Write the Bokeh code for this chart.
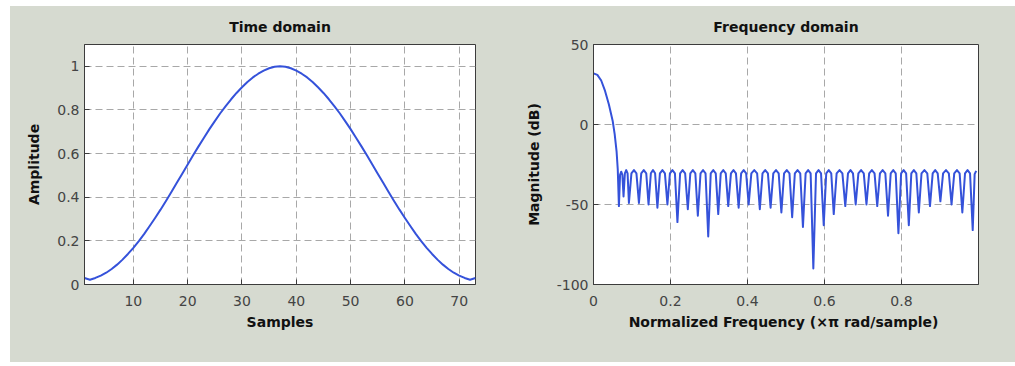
from bokeh.plotting import figure
from bokeh.layouts import row, column
from bokeh.models import Range1d, FixedTicker, NumeralTickFormatter, Spacer
from bokeh.embed import file_html
from bokeh.resources import INLINE

# ---- data ----
SAMPLES = list(range(1, 74))
AMPLITUDE = [0.030, 0.022, 0.030, 0.041, 0.054, 0.071, 0.091, 0.114, 0.140, 0.168,
             0.199, 0.232, 0.268, 0.305, 0.343, 0.383, 0.424, 0.466, 0.508, 0.550,
             0.592, 0.633, 0.673, 0.712, 0.749, 0.785, 0.818, 0.849, 0.878, 0.904,
             0.928, 0.949, 0.966, 0.980, 0.991, 0.998, 1.000,
             0.998, 0.991, 0.980, 0.966, 0.949, 0.928, 0.904, 0.878, 0.849, 0.818,
             0.785, 0.749, 0.712, 0.673, 0.633, 0.592, 0.550, 0.508, 0.466, 0.424,
             0.383, 0.343, 0.305, 0.268, 0.232, 0.199, 0.168, 0.140, 0.114, 0.091,
             0.071, 0.054, 0.041, 0.030, 0.022, 0.030]

FREQ = [0.000, 0.010, 0.020, 0.030, 0.040, 0.050, 0.055, 0.060, 0.063, 0.066,
        0.069, 0.072, 0.075, 0.078,
        0.0815, 0.085, 0.0885, 0.092,
        0.0985, 0.105, 0.1115, 0.118,
        0.124, 0.1305, 0.137, 0.143,
        0.149, 0.1545, 0.160, 0.166,
        0.1725, 0.179, 0.1855, 0.192,
        0.1985, 0.205, 0.2115, 0.218,
        0.225, 0.2315, 0.238, 0.245,
        0.2515, 0.258, 0.2645, 0.271,
        0.278, 0.2845, 0.291, 0.298,
        0.3045, 0.311, 0.3175, 0.324,
        0.3305, 0.337, 0.3435, 0.350,
        0.357, 0.3635, 0.370, 0.377,
        0.3835, 0.390, 0.3965, 0.403,
        0.410, 0.4175, 0.425, 0.432,
        0.439, 0.446, 0.453, 0.460,
        0.467, 0.474, 0.481, 0.488,
        0.495, 0.502, 0.509, 0.516,
        0.523, 0.530, 0.537, 0.544,
        0.551, 0.5575, 0.564, 0.571,
        0.578, 0.5845, 0.591, 0.598,
        0.6045, 0.611, 0.6175, 0.624,
        0.6315, 0.639, 0.6465, 0.654,
        0.661, 0.6675, 0.674, 0.681,
        0.688, 0.695, 0.702, 0.709,
        0.716, 0.723, 0.730, 0.737,
        0.744, 0.751, 0.758, 0.765,
        0.772, 0.7785, 0.785, 0.792,
        0.799, 0.8055, 0.812, 0.819,
        0.8255, 0.832, 0.8385, 0.845,
        0.852, 0.8595, 0.867, 0.874,
        0.881, 0.8875, 0.894, 0.901,
        0.908, 0.9155, 0.923, 0.930,
        0.937, 0.944, 0.951, 0.958,
        0.965, 0.9715, 0.978, 0.985,
        0.990, 0.994]

MAG_DB = [32.0, 31.0, 27.5, 21.0, 12.5, 2.0, -6.0, -17.0, -28.0, -51.0,
          -31.5, -29.5, -31.5, -45.0,
          -30.5, -28.5, -30.5, -49.0,
          -30.5, -28.5, -30.5, -49.0,
          -30.5, -28.5, -30.5, -50.0,
          -30.5, -28.5, -30.5, -52.0,
          -30.5, -28.5, -30.5, -50.0,
          -30.5, -28.5, -30.5, -61.0,
          -30.5, -28.5, -30.5, -53.0,
          -30.5, -28.5, -30.5, -57.0,
          -30.5, -28.5, -30.5, -70.0,
          -30.5, -28.5, -30.5, -56.0,
          -30.5, -28.5, -30.5, -51.0,
          -30.5, -28.5, -30.5, -52.0,
          -30.5, -28.5, -30.5, -50.0,
          -30.5, -28.5, -30.5, -53.0,
          -30.5, -28.5, -30.5, -52.0,
          -30.5, -28.5, -30.5, -55.0,
          -30.5, -28.5, -30.5, -58.0,
          -30.5, -28.5, -30.5, -64.0,
          -30.5, -28.5, -30.5, -90.0,
          -30.5, -28.5, -30.5, -63.0,
          -30.5, -28.5, -30.5, -56.0,
          -30.5, -28.5, -30.5, -51.0,
          -30.5, -28.5, -30.5, -50.0,
          -30.5, -28.5, -30.5, -50.0,
          -30.5, -28.5, -30.5, -51.0,
          -30.5, -28.5, -30.5, -57.0,
          -30.5, -28.5, -30.5, -68.0,
          -30.5, -28.5, -30.5, -63.0,
          -30.5, -28.5, -30.5, -55.0,
          -30.5, -28.5, -30.5, -51.0,
          -30.5, -28.5, -30.5, -48.0,
          -30.5, -28.5, -30.5, -50.0,
          -30.5, -28.5, -30.5, -55.0,
          -30.5, -28.5, -30.5, -66.0,
          -31.0, -29.0]

TIME_XTICKS = [10, 20, 30, 40, 50, 60, 70]
TIME_YTICKS = [0, 0.2, 0.4, 0.6, 0.8, 1]
FREQ_XTICKS = [0, 0.2, 0.4, 0.6, 0.8]
FREQ_YTICKS = [-100, -50, 0, 50]

BG = "#d6dad0"
LINE = "#3552da"
FRAME = "#3c3c3c"
FONT = "DejaVu Sans"
H = 356


def make(width, xr, yr, bl, br, title, xlabel, ylabel, xt, yt, fmt_x, fmt_y):
    p = figure(width=width, height=H, x_range=Range1d(*xr), y_range=Range1d(*yr),
               output_backend="svg", toolbar_location=None,
               min_border_left=bl, min_border_right=br,
               min_border_top=36, min_border_bottom=78,
               background_fill_color="white", border_fill_color=BG,
               outline_line_color=FRAME, outline_line_width=1)
    p.title.text = title
    p.title.align = "center"
    p.title.text_font = FONT
    p.title.text_font_size = "14px"
    p.title.text_font_style = "bold"
    p.title.text_color = "#111111"
    p.title.standoff = 20
    p.xaxis.axis_label = xlabel
    p.yaxis.axis_label = ylabel
    p.xaxis.ticker = FixedTicker(ticks=xt)
    p.yaxis.ticker = FixedTicker(ticks=yt)
    p.xaxis.formatter = NumeralTickFormatter(format=fmt_x)
    p.yaxis.formatter = NumeralTickFormatter(format=fmt_y)
    for ax in (p.xaxis[0], p.yaxis[0]):
        ax.major_tick_in = 5
        ax.major_tick_out = 0
        ax.minor_tick_line_color = None
        ax.axis_line_color = FRAME
        ax.major_tick_line_color = FRAME
        ax.major_label_text_font = FONT
        ax.major_label_text_font_size = "14px"
        ax.major_label_text_color = "#444444"
        ax.axis_label_text_font = FONT
        ax.axis_label_text_font_size = "14px"
        ax.axis_label_text_font_style = "bold"
        ax.axis_label_text_color = "#111111"
    p.xaxis.major_label_standoff = 11
    p.xaxis.axis_label_standoff = 5
    p.yaxis.major_label_standoff = 5
    p.yaxis.axis_label_standoff = 12
    for g in (p.xgrid[0], p.ygrid[0]):
        g.grid_line_color = "#a8a8a8"
        g.grid_line_dash = "7 4"
        g.grid_line_width = 1
    return p


p1 = make(510, (1, 73), (0, 1.1), 74, 45, "Time domain", "Samples", "Amplitude",
          TIME_XTICKS, TIME_YTICKS, "0", "0.[0]")
p1.line(SAMPLES, AMPLITUDE, line_color=LINE, line_width=2, line_join="round")

p2 = make(495, (0, 1), (-100, 50), 73, 37, "Frequency domain",
          "Normalized Frequency  (\u00d7\u03c0 rad/sample)", "Magnitude (dB)",
          FREQ_XTICKS, FREQ_YTICKS, "0.[0]", "0")
p2.line(FREQ, MAG_DB, line_color=LINE, line_width=2, line_join="round")

inner = row(p1, p2, styles={"background-color": BG})
layout = column(Spacer(width=1005, height=6),
                row(Spacer(width=10, height=H), inner))
open("out.html", "w").write(file_html(layout, INLINE))
